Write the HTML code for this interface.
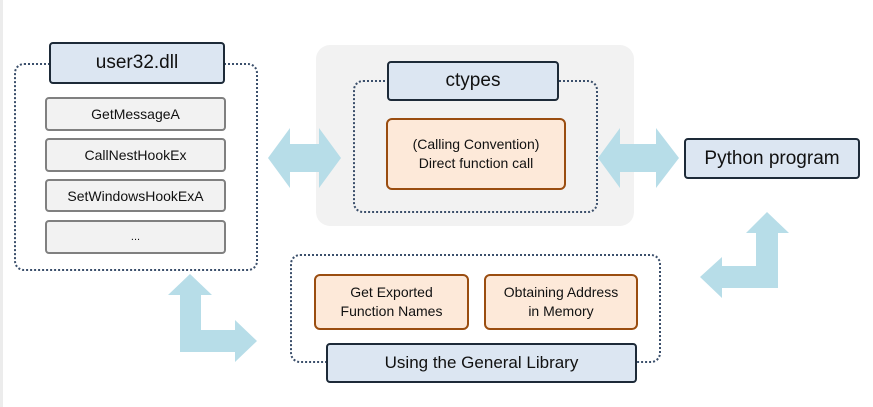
<!DOCTYPE html>
<html><head><style>
body{margin:0;width:873px;height:407px;background:#fff;position:relative;overflow:hidden;font-family:"Liberation Sans",sans-serif;color:#111}
div.a{position:absolute;box-sizing:border-box;display:flex;align-items:center;justify-content:center;text-align:center}
.dot{border:2.5px dotted #3b4f6b;border-radius:10px}
.hdr{background:#dce6f2;border:2px solid #1d2a38;border-radius:4px;font-size:19px}
.itm{background:#f2f2f2;border:2px solid #808080;border-radius:4px;font-size:14px}
.org{background:#fde9d9;border:2px solid #9a4d10;border-radius:6px;font-size:14px;line-height:19px}
</style></head><body>
<div class="a" style="left:0;top:0;width:3px;height:407px;background:#ececec"></div>
<div class="a" style="left:316px;top:45px;width:318px;height:181px;background:#f2f2f2;border-radius:14px"></div>
<div class="a dot" style="left:14px;top:63px;width:244px;height:208px"></div>
<div class="a hdr" style="left:49px;top:42px;width:176px;height:42px">user32.dll</div>
<div class="a itm" style="left:45px;top:97px;width:181px;height:34px">GetMessageA</div>
<div class="a itm" style="left:45px;top:138px;width:181px;height:34px">CallNestHookEx</div>
<div class="a itm" style="left:45px;top:179px;width:181px;height:33px">SetWindowsHookExA</div>
<div class="a itm" style="left:45px;top:220px;width:181px;height:34px;font-size:11px">...</div>
<div class="a dot" style="left:353px;top:80px;width:245px;height:133px"></div>
<div class="a hdr" style="left:387px;top:61px;width:172px;height:40px">ctypes</div>
<div class="a org" style="left:386px;top:118px;width:180px;height:72px">(Calling Convention)<br>Direct function call</div>
<div class="a hdr" style="left:684px;top:138px;width:176px;height:41px">Python program</div>
<div class="a dot" style="left:290px;top:254px;width:371px;height:109px;background:transparent"></div>
<div class="a org" style="left:314px;top:274px;width:155px;height:56px">Get Exported<br>Function Names</div>
<div class="a org" style="left:484px;top:274px;width:154px;height:56px">Obtaining Address<br>in Memory</div>
<div class="a hdr" style="left:326px;top:343px;width:311px;height:40px;font-size:17px">Using the General Library</div>
<svg width="873" height="407" style="position:absolute;left:0;top:0">
<g fill="#b7dde8">
<polygon points="268,158 290,128 290,144 319,144 319,128 341,158 319,188 319,172 290,172 290,188"/>
<polygon points="598,158 620,128 620,144 656,144 656,128 679,158 656,188 656,172 620,172 620,188"/>
<polygon points="767,212 789,233 778,233 778,288 722,288 722,298 700,277 722,257 722,266 756,266 756,233 746,233"/>
<polygon points="190,274 212,295 201,295 201,330 235,330 235,320 257,341 235,362 235,352 180,352 180,295 168,295"/>
</g></svg>
</body></html>
